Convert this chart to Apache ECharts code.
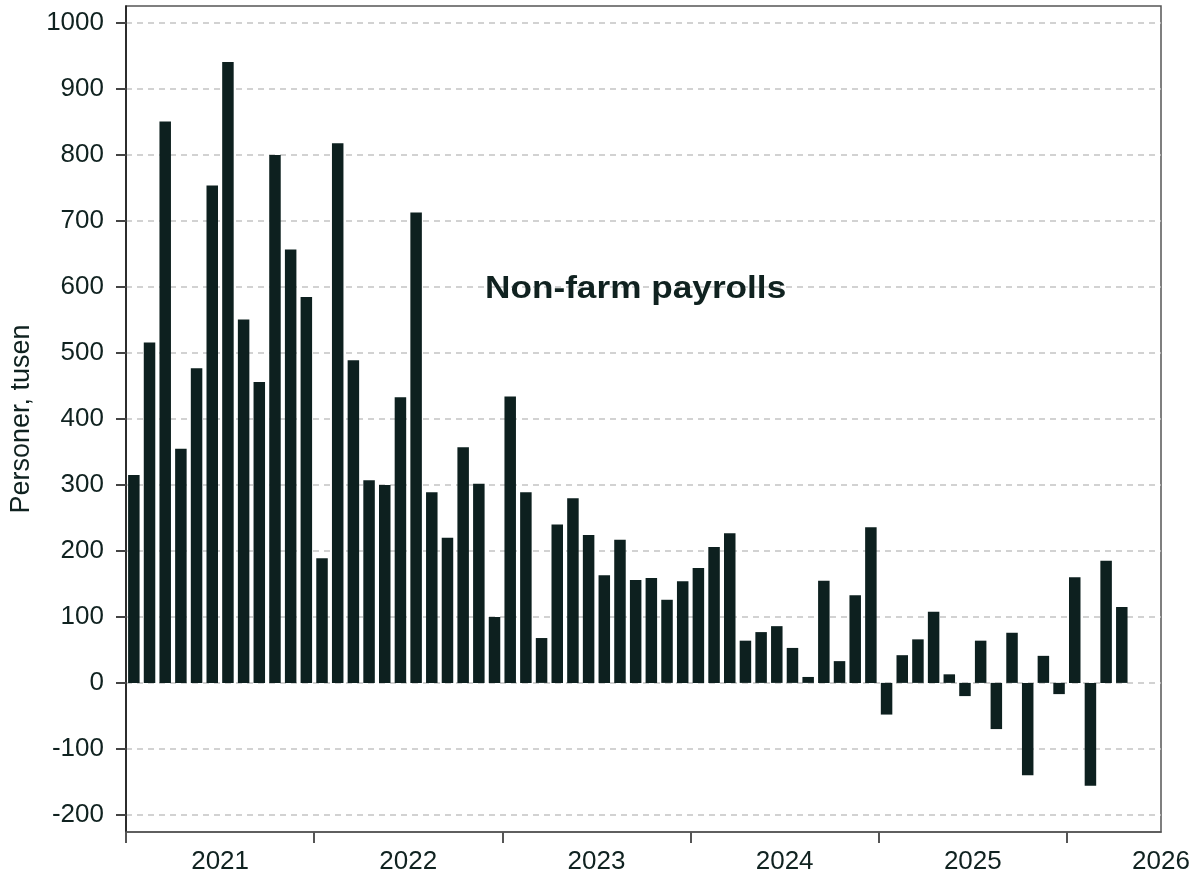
<!DOCTYPE html>
<html>
<head>
<meta charset="utf-8">
<script src="https://cdn.jsdelivr.net/npm/echarts@6/dist/echarts.min.js"></script>
<style>
html,body{margin:0;padding:0;background:#fff;}
#chart{width:1198px;height:877px;}
</style>
</head>
<body>
<div id="chart"></div>
<script>
// Monthly categories (Jan 2021 – Apr 2026)
const months = [];
for (let y = 2021; y <= 2026; y++) {
  for (let m = 1; m <= 12; m++) {
    if (y === 2026 && m > 4) break;
    months.push(y + '-' + String(m).padStart(2, '0'));
  }
}
// Non-farm payrolls, change in thousands
const payrolls = [
  315, 516, 851, 355, 477, 754, 941, 551, 456, 800, 657, 585,
  189, 818, 489, 307, 300, 433, 713, 289, 220, 357, 302, 100,
  434, 289, 68, 240, 280, 224, 163, 217, 156, 159, 126, 154,
  174, 206, 227, 64, 77, 86, 53, 9, 155, 33, 133, 236,
  -48, 42, 66, 108, 13, -20, 64, -70, 76, -140, 41, -17,
  160, -156, 185, 115
];
const yearLabels = ['2021', '2022', '2023', '2024', '2025', '2026'];
const yTicks = [-200, -100, 0, 100, 200, 300, 400, 500, 600, 700, 800, 900, 1000];
const yAxisName = 'Personer, tusen';
const chartTitle = 'Non-farm payrolls';

const yearStartTicks = yearLabels.map((_, i) => i * 12);
const yearMidTicks = yearLabels.map((_, i) => i * 12 + 6);

const textColor = '#102220';
const fontFamily = '"Liberation Sans", Arial, Helvetica, sans-serif';

const chart = echarts.init(document.getElementById('chart'), null, {renderer: 'canvas'});
chart.setOption({
  animation: false,
  backgroundColor: '#ffffff',
  grid: {
    left: 126, right: 37, top: 6, bottom: 45,
    show: true, borderColor: '#555', borderWidth: 1.5, containLabel: false
  },
  graphic: [{
    type: 'text',
    left: 485,
    top: 273,
    scaleX: 1.1,
    style: {
      text: chartTitle,
      font: 'bold 32px ' + fontFamily,
      fill: textColor
    },
    z: 100
  }],
  xAxis: {
    type: 'value',
    min: 0,
    max: 66,
    axisLine: {show: true, onZero: false, lineStyle: {color: '#555', width: 1.5}},
    axisTick: {show: true, customValues: yearStartTicks, length: 11, lineStyle: {color: '#555', width: 2}},
    axisLabel: {
      customValues: yearMidTicks,
      formatter: v => yearLabels[Math.round((v - 6) / 12)],
      fontSize: 26, color: textColor, margin: 17, fontFamily: fontFamily,
      showMaxLabel: true, showMinLabel: true
    },
    splitLine: {show: false}
  },
  yAxis: {
    type: 'value',
    min: -226,
    max: 1026,
    name: yAxisName,
    nameLocation: 'middle',
    nameGap: 90,
    nameTextStyle: {fontSize: 27, color: textColor, fontFamily: fontFamily},
    axisLine: {show: true, onZero: false, lineStyle: {color: '#111', width: 1.5}},
    axisTick: {show: true, customValues: yTicks, length: 10, lineStyle: {color: '#444', width: 2}},
    axisLabel: {
      customValues: yTicks,
      formatter: v => String(v),
      fontSize: 26, color: textColor, margin: 22, fontFamily: fontFamily
    },
    splitLine: {show: true, lineStyle: {color: '#c4c4c4', type: [6, 5], width: 1.5}}
  },
  series: [{
    type: 'bar',
    data: payrolls.map((v, i) => [i + 0.5, v]),
    barWidth: 11.5,
    itemStyle: {color: '#0d201f'},
    z: 3
  }]
});
</script>
</body>
</html>
